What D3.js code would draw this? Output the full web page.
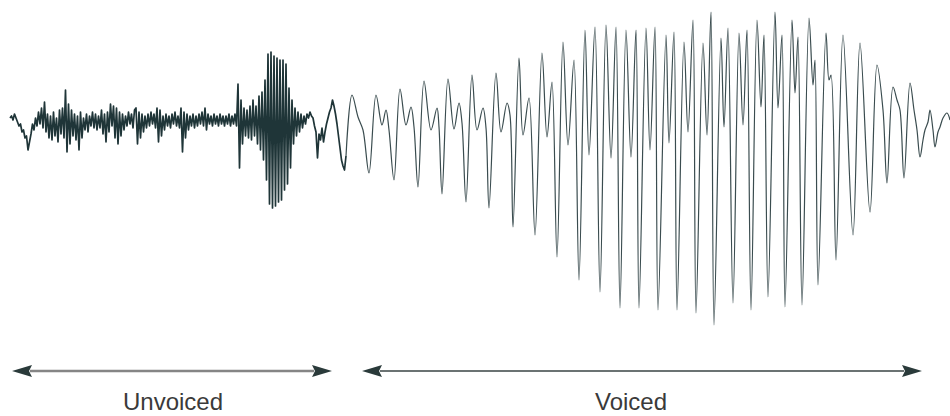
<!DOCTYPE html>
<html lang="en">

<head>
    <meta charset="utf-8">
    <title>Unvoiced / Voiced speech waveform</title>
    <script type="text/javascript" src="https://d3js.org/d3.v7.min.js"></script>
    <style type="text/css">
        body { margin: 0; background: #ffffff; }
    </style>
</head>

<body>
    <script type="text/javascript">
        //Unvoiced part: amplitude every 0.75 ms, starting at t = 0
        const unvoicedStep = 0.75;
        const unvoicedAmp = [
            1, 2, 0, 3, 1, -1, -3, -2, -6, -5, -9, -8, -15, -11,
            -7, -2, -5, 1, -3, 4, -2, 6, -4, 9,
            -6, 3, -9, 2, -10, 4, -8, 1, -11, 5,
            -7, 6, -9, 15, -16, 8, -12, 5, -8, 3,
            -10, 2, -15, 4, -9, 1, -5, 3, -6, 2,
            -3, 4, -4, 3, -5, 2, -4, 5, -7, 3,
            -11, 4, -6, 8, -3, 7, -9, 6, -12, 4,
            -8, 3, -5, 2, -3, 4, -2, 3, -4, 5,
            6, -12, 4, -9, 3, -6, 2, -4, 3, -3,
            4, -2, 3, -4, 6, -11, 5, -8, 2, -5,
            3, -3, 2, -4, 3, -2, 4, -3, 2, -4,
            6, -16, 4, -9, 3, -5, 2, -3, 3, -4,
            2, -3, 3, -2, 4, -3, 6, -5, 3, -2,
            2, -3, 3, -2, 2, -3, 3, -2, 2, -3,
            2, -2, 3, -3, 2, -2, 3,
            -3, 18, -24, 10, -12, 6, -8, 5, -9, 7,
            -10, 10, -8, 7, -12, 12, -15, 14, -20, 20,
            -30, 33, -42, 34, -44, 32, -43, 31, -41, 30,
            -40, 30, -35, 28, -32, 16, -24, 10, -12, 6,
            -8, 4, -6, 3, -4, 2, -2, 3, 1, 4,
            2, 1, -3, -6, -19, -7, -10, -4, -11, -6,
            -2, 1, 4, 6, 10, 7, 3, -2, -8, -14,
            -20, -23, -25, -18
        ];

        //Voiced part: turning points [time ms, amplitude]
        const voicedPts = [
            [168, -18], [171, 12.5], [174, 1.5], [176.5, -5], [179.5, -26.5],
            [183, 12.5], [186, -2.5], [188, 5], [189.5, -5], [192, -30],
            [195, 15.5], [198, -2.5], [200.5, 6.5], [202, -3.5], [204, -33.5],
            [207, 19.5], [210.5, -5], [213.5, 6], [214.5, -3.5], [216, -37],
            [219, 20.5], [222, -4.5], [224.5, 8.5], [226, -1.5], [228, -41],
            [231, 22.5], [233.5, -5], [236.5, 6], [238, -4], [239.5, -44],
            [243, 23.5], [245.5, -6], [248.5, 8.5], [250, 2.5], [251.5, -53.5],
            [254.5, 31], [256.5, -7.5], [259.5, 11], [262.5, -57.5],
            [266, 33.5], [268.5, -8.5], [271, 19], [273.5, -68.5],
            [276.5, 39], [279, -12.5], [282, 30], [284.5, -80],
            [287.5, 45], [289.5, -17.5], [292.5, 46.5], [295, -86],
            [298, 47.5], [300.5, -19], [303, 46.5], [305, -94],
            [308, 45], [310.5, -18.5], [313, 45], [314.5, -94],
            [318, 46], [320, -15], [322.5, 46.5], [324, -95],
            [328, 42.5], [329.5, -11.5], [332, 44], [333.5, -95],
            [337, 39], [339, -6], [341.5, 50], [343, -96.5],
            [346.5, 38.5], [348.5, -7.5], [350.5, 54], [352, -102.5],
            [355.5, 41], [357, -3.5], [359, 46], [361.5, -91.5],
            [364.5, 43.5], [366.5, -2.5], [368.5, 45], [370.5, -95],
            [373.5, 50], [375.5, 6.5], [377, 42.5], [379, -88.5],
            [382.5, 54], [384, 6], [386, 42.5], [387.5, -93.5],
            [391, 50], [392.5, 13.5], [394, 41.5], [396, -92.5],
            [399.5, 51], [401.5, 17.5], [402.5, 30], [404, -82.5],
            [408, 43.5], [409.5, 20], [410.5, 22.5], [413, -70],
            [416.5, 42.5], [421.5, -57.5],
            [425, 38.5], [430, -46],
            [433.5, 27.5], [436.5, 5], [438.5, -31.5],
            [441.5, 16.5], [443.5, 10], [445, 5], [447, -29],
            [450, 18.5], [452, 5], [453.5, -5], [455, -18.5], [456.5, -10],
            [457.5, -5], [459, -1], [460, 5], [461.5, -5], [462.5, -13.5],
            [464, -6], [465, -3.5], [466.5, 1], [468.5, 3.5], [470, 0]
        ];

        //Segments marked under the waveform (times in ms)
        const segLabels = ['Unvoiced', 'Voiced'];
        const segFrom = [1, 176];
        const segTo = [161, 456];
        const segLabelAt = [81.5, 310.5];

        //Canvas and scales
        const canvasWidth = 950;
        const canvasHeight = 416;

        const xScale = d3.scaleLinear()
            .domain([0, 470])
            .range([10, 950])

        const yScale = d3.scaleLinear()
            .domain([-105, 60])
            .range([330, 0])

        const svg = d3.select('body')
            .append('svg')
            .attr('width', canvasWidth)
            .attr('height', canvasHeight)

        //Unvoiced noise, straight segments
        const unvoicedData = unvoicedAmp.map((a, i) => [i * unvoicedStep, a])
        const rawLine = d3.line()
            .x(d => xScale(d[0]))
            .y(d => yScale(d[1]))

        svg.append('path')
            .datum(unvoicedData)
            .attr('fill', 'none')
            .attr('stroke', '#1f3538')
            .attr('stroke-width', 1.7)
            .attr('stroke-linejoin', 'round')
            .attr('d', rawLine)

        //Voiced part, smooth curve through the turning points
        const smoothLine = d3.line()
            .x(d => xScale(d[0]))
            .y(d => yScale(d[1]))
            .curve(d3.curveCatmullRom.alpha(0.5))

        svg.append('path')
            .datum(voicedPts)
            .attr('fill', 'none')
            .attr('stroke', '#3a4c4f')
            .attr('stroke-width', 1.2)
            .attr('d', smoothLine)

        //Arrows with labels
        const arrowY = 371;
        const headLen = 20;
        const headHalf = 6;
        const segs = segLabels.map((label, i) => ({
            label: label, from: segFrom[i], to: segTo[i], at: segLabelAt[i], idx: i
        }))

        const arrows = svg.append('g').attr('class', 'arrows')

        arrows.selectAll('line')
            .data(segs)
            .enter()
            .append('line')
            .attr('x1', d => xScale(d.from) + headLen - 2)
            .attr('x2', d => xScale(d.to) - headLen + 2)
            .attr('y1', arrowY)
            .attr('y2', arrowY)
            .attr('stroke', d => d.idx === 0 ? '#858585' : '#3a4444')
            .attr('stroke-width', d => d.idx === 0 ? 2.6 : 1.6)

        arrows.selectAll('path.left')
            .data(segs)
            .enter()
            .append('path')
            .attr('class', 'left')
            .attr('fill', '#2a3a3a')
            .attr('d', d => {
                const x = xScale(d.from)
                return 'M' + x + ',' + arrowY + 'L' + (x + headLen) + ',' + (arrowY - headHalf)
                    + 'L' + (x + headLen - 3) + ',' + arrowY + 'L' + (x + headLen) + ',' + (arrowY + headHalf) + 'Z'
            })

        arrows.selectAll('path.right')
            .data(segs)
            .enter()
            .append('path')
            .attr('class', 'right')
            .attr('fill', '#2a3a3a')
            .attr('d', d => {
                const x = xScale(d.to)
                return 'M' + x + ',' + arrowY + 'L' + (x - headLen) + ',' + (arrowY - headHalf)
                    + 'L' + (x - headLen + 3) + ',' + arrowY + 'L' + (x - headLen) + ',' + (arrowY + headHalf) + 'Z'
            })

        arrows.selectAll('text')
            .data(segs)
            .enter()
            .append('text')
            .attr('x', d => xScale(d.at))
            .attr('y', 410)
            .attr('text-anchor', 'middle')
            .attr('font-family', '"Liberation Sans", Arial, sans-serif')
            .attr('font-size', 24)
            .attr('fill', '#3a3a3a')
            .text(d => d.label)
    </script>
</body>

</html>
